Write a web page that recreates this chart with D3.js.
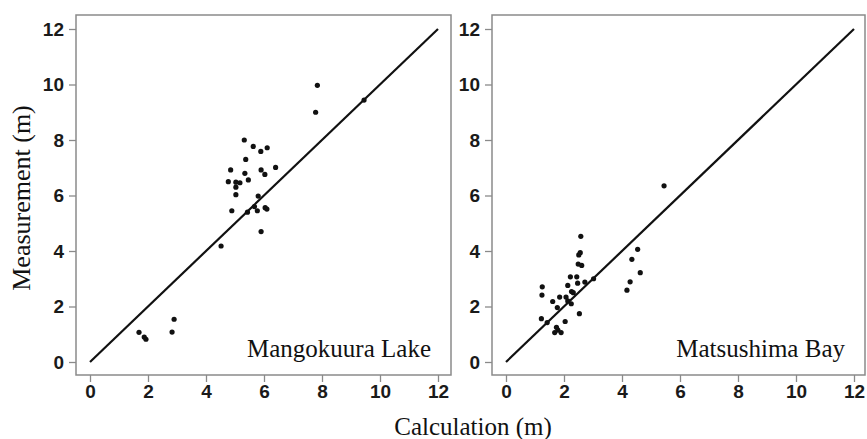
<!DOCTYPE html>
<html><head><meta charset="utf-8">
<script src="https://cdn.jsdelivr.net/npm/d3@7"></script>
<style>body{margin:0;background:#fff}svg{display:block}</style>
</head><body>
<svg id="c" width="867" height="439"></svg>
<script>
const ticks = [0, 2, 4, 6, 8, 10, 12];
const lakeCalc = [5.32,5.63,5.89,6.11,5.37,4.85,5.34,5.90,6.03,6.40,5.46,4.77,5.03,5.17,5.03,5.03,5.80,5.67,5.77,6.04,6.10,4.89,5.43,5.90,4.52,1.69,1.87,1.93,2.90,2.83,7.84,7.78,9.45];
const lakeMeas = [8.00,7.77,7.59,7.72,7.30,6.92,6.80,6.92,6.76,7.01,6.56,6.50,6.48,6.46,6.30,6.03,5.98,5.60,5.45,5.56,5.51,5.45,5.40,4.70,4.18,1.07,0.90,0.82,1.54,1.08,9.97,9.00,9.44];
const bayCalc = [2.58,2.51,2.56,2.49,2.61,4.54,4.34,4.63,4.28,4.17,2.22,2.44,2.13,2.47,2.72,3.02,2.26,2.32,1.25,1.24,1.61,1.85,2.07,2.13,2.25,1.77,1.22,2.04,2.53,1.42,1.68,1.79,1.90,1.74,5.45];
const bayMeas = [4.53,3.86,3.94,3.53,3.48,4.06,3.70,3.22,2.89,2.59,3.07,3.07,2.76,2.84,2.88,3.00,2.54,2.50,2.71,2.41,2.18,2.34,2.34,2.20,2.10,1.96,1.56,1.46,1.74,1.42,1.06,1.15,1.06,1.25,6.35];

const svg = d3.select("#c");
const panels = [
  {calc: lakeCalc, meas: lakeMeas, name: "Mangokuura Lake", left: 76, right: 451, x0: 90, x12: 438},
  {calc: bayCalc, meas: bayMeas, name: "Matsushima Bay", left: 492, right: 865, x0: 506, x12: 854}
];
const frameTop = 15, frameBottom = 375;
const y = d3.scaleLinear().domain([0, 12]).range([362, 29]);
const gray = "#8a8a8a";

panels.forEach(p => {
  const x = d3.scaleLinear().domain([0, 12]).range([p.x0, p.x12]);
  const g = svg.append("g");
  g.append("rect").attr("x", p.left).attr("y", frameTop)
    .attr("width", p.right - p.left).attr("height", frameBottom - frameTop)
    .attr("fill", "none").attr("stroke", gray).attr("stroke-width", 1.5);

  const ax = g.append("g").attr("transform", `translate(0,${frameBottom})`)
    .call(d3.axisBottom(x).tickValues(ticks).tickSize(7).tickPadding(3));
  const ay = g.append("g").attr("transform", `translate(${p.left},0)`)
    .call(d3.axisLeft(y).tickValues(ticks).tickSize(7).tickPadding(5));
  [ax, ay].forEach(a => {
    a.select(".domain").remove();
    a.selectAll("line").attr("stroke", gray).attr("stroke-width", 1.3);
    a.selectAll("text").attr("fill", "#1a1a1a")
      .style("font-family", "'Liberation Sans', Arial, sans-serif")
      .style("font-weight", "bold").style("font-size", "19px");
  });

  g.append("line").attr("x1", x(0)).attr("y1", y(0)).attr("x2", x(12)).attr("y2", y(12))
    .attr("stroke", "#111").attr("stroke-width", 2.2);

  g.selectAll("circle.pt").data(p.calc.map((c, i) => [c, p.meas[i]])).enter()
    .append("circle").attr("class", "pt")
    .attr("cx", d => x(d[0])).attr("cy", d => y(d[1])).attr("r", 2.6).attr("fill", "#111");

  g.append("text").attr("x", p.right - 20).attr("y", 357).attr("text-anchor", "end")
    .style("font-family", "'Liberation Serif', 'Times New Roman', serif")
    .style("font-size", "25px").attr("fill", "#111").text(p.name);
});

svg.append("text").attr("x", 473).attr("y", 435).attr("text-anchor", "middle")
  .style("font-family", "'Liberation Serif', 'Times New Roman', serif")
  .style("font-size", "25px").attr("fill", "#111").text("Calculation (m)");
svg.append("text").attr("transform", "translate(30,198) rotate(-90)").attr("text-anchor", "middle")
  .style("font-family", "'Liberation Serif', 'Times New Roman', serif")
  .style("font-size", "26px").attr("fill", "#111").text("Measurement (m)");
</script>
</body></html>
